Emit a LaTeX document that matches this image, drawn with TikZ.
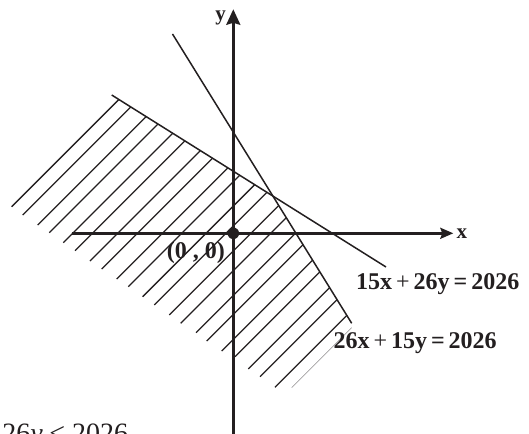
\documentclass[tikz,border=0pt]{standalone}
\usepackage{fontspec}
\setmainfont{Liberation Serif}
\usepackage{xcolor}
\usetikzlibrary{arrows.meta,calc}
\definecolor{ink}{RGB}{35,31,32}

\begin{document}
\begin{tikzpicture}[x=1pt,y=1pt,
  axis/.style={draw=ink,line width=2.5pt},
  bound/.style={draw=ink,line width=1.5pt},
  hatch/.style={draw=ink,line width=1.3pt},
  eqlbl/.style={inner sep=0pt,text=ink,font=\fontsize{24}{28}\selectfont\bfseries},
  axlbl/.style={inner sep=0pt,text=ink,font=\fontsize{21}{25}\selectfont\bfseries}]
  \useasboundingbox (-233.3,-199.7) rectangle (295.7,233.3);
  % axes ends
  \coordinate (O) at (0,0);
  \coordinate (xl) at (-161.6,0);
  \coordinate (xr) at (220,0);
  \coordinate (yb) at (0,-210);
  \coordinate (yt) at (0,224);
  % the two boundary lines
  \coordinate (s1) at (-121.6,138.3);
  \coordinate (s2) at (152.7,-33.7);
  \coordinate (t1) at (-60.8,199.3);
  \coordinate (t2) at (118.4,-90);
  \coordinate (c) at (intersection of s1--s2 and t1--t2);
  \node[eqlbl] (orig) at (-37.5,-19.2) {(0 , 0)};
  % hatching of the region
  \begin{scope}
    \clip (s1) -- (c) -- ($(t1)!1.5!(t2)$) -- (-400,-400) -- (-400,300) -- cycle;
    \foreach \hx/\hy in {-221.6/26.6,-210.6/18.3,-195.6/8.3,-184/0.6,-170/-9.4,
      -158.3/-17.4,-143.3/-27.7,-131.6/-35.7,-116.6/-45.7,-105/-53.4,-90.6/-63.4,
      -79/-71.7,-64/-81.7,-52.6/-90,-37.3/-99.4,-26.6/-107.7,-11.6/-117.7,
      1.7/-123.4,15/-135.7,26.7/-143.4,41.7/-154}
      \draw[hatch] (\hx,\hy) -- ++(260,260);
  \end{scope}
  \coordinate (h1) at (58.4,-154.4);
  \coordinate (h2) at (118.4,-94.4);
  \draw[ink!70,line width=0.4pt] (h1) -- (h2);
  \draw[bound] (s1) -- (s2);
  \draw[bound] (t1) -- (t2);
  \draw[axis,-{Stealth[length=13pt,width=11pt,inset=2pt]}] (xl) -- (xr);
  \draw[axis,-{Stealth[length=15.5pt,width=14pt,inset=2pt]}] (yb) -- (yt);
  \fill[ink] (O) circle (5.8);
  \node[axlbl,anchor=west] (xlbl) at ($(xr)+(3,0)$) {x};
  \node[axlbl] (ylbl) at (-12.8,215.8) {y};
  \node[eqlbl,anchor=base west] (eq1) at (122.7,-56) {15x\,{\mdseries+}\,26y\,=\,2026};
  \node[eqlbl,anchor=base west] (eq2) at (100,-115) {26x\,{\mdseries+}\,15y\,=\,2026};
  \node[inner sep=0pt,text=ink,font=\fontsize{28}{32}\selectfont,anchor=base east] (frag) at (-105,-208.9) {26\textit{y} ≤ 2026};
\end{tikzpicture}
\end{document}
